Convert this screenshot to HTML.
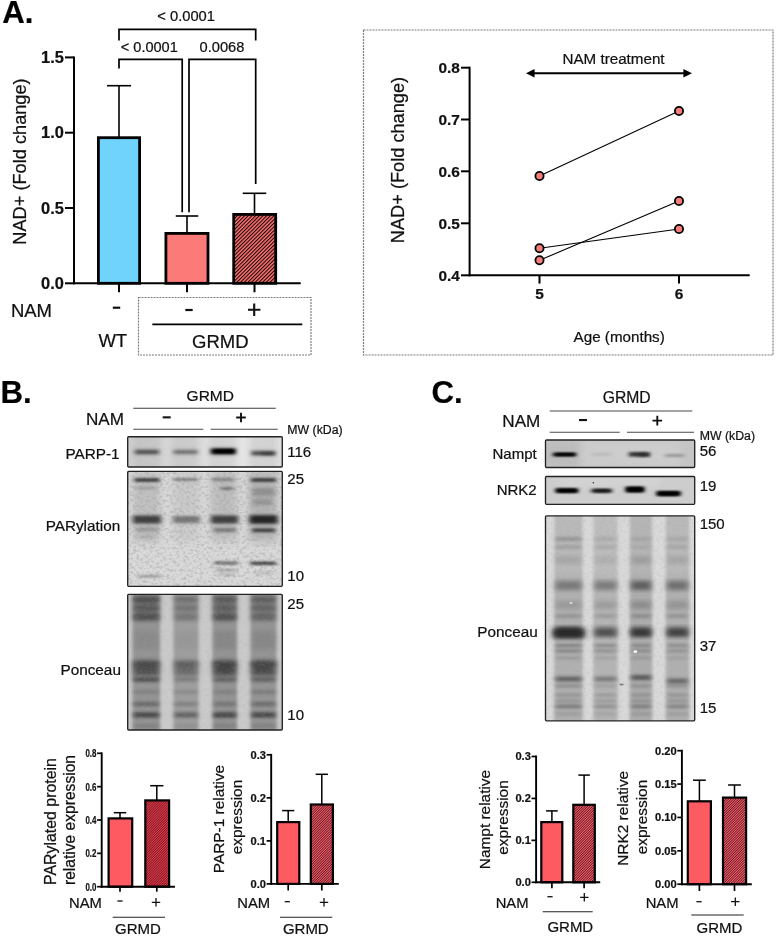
<!DOCTYPE html>
<html lang="en"><head><meta charset="utf-8"><title>NAD+ figure</title>
<style>html,body{margin:0;padding:0;background:#fff}svg{display:block;opacity:.999}text{font-family:'Liberation Sans', Arial, Helvetica, sans-serif;stroke:#111;stroke-width:.22px}</style>
</head><body>
<svg width="777" height="938" viewBox="0 0 777 938">
<defs>
<pattern id="hatchA" width="2.6" height="2.6" patternUnits="userSpaceOnUse" patternTransform="rotate(-45)"><rect width="2.6" height="2.6" fill="#ff7373"/><rect width="2.6" height="1.05" fill="#100"/></pattern>
<pattern id="hatchS" width="1.75" height="1.75" patternUnits="userSpaceOnUse" patternTransform="rotate(-45)"><rect width="1.75" height="1.75" fill="#fb6672"/><rect width="1.75" height="0.72" fill="#45040e"/></pattern>
<pattern id="hatchF" width="1.2" height="1.2" patternUnits="userSpaceOnUse" patternTransform="rotate(-45)"><rect width="1.2" height="1.2" fill="#e2404e"/><rect width="1.2" height="0.5" fill="#6a0c18"/></pattern>
<filter id="b1" x="-20%" y="-200%" width="140%" height="500%"><feGaussianBlur stdDeviation="2 1.15"/></filter>
<filter id="b2" x="-20%" y="-200%" width="140%" height="500%"><feGaussianBlur stdDeviation="2.6 1.8"/></filter>
<filter id="b3" x="-30%" y="-30%" width="160%" height="160%"><feGaussianBlur stdDeviation="3 2.2"/></filter>
<filter id="b5" x="-30%" y="-10%" width="160%" height="120%"><feGaussianBlur stdDeviation="1.7 3"/></filter>
<filter id="b4" x="-40%" y="-40%" width="180%" height="180%"><feGaussianBlur stdDeviation="3.5 5"/></filter>
<filter id="noise" x="0" y="0" width="100%" height="100%"><feTurbulence type="fractalNoise" baseFrequency="0.3 0.36" numOctaves="3" seed="7" result="n"/><feColorMatrix in="n" type="matrix" values="0 0 0 0 0.38  0 0 0 0 0.38  0 0 0 0 0.38  -3.4 0 0 0 1.85"/><feGaussianBlur stdDeviation="0.5"/></filter>
<filter id="noise2" x="0" y="0" width="100%" height="100%"><feTurbulence type="fractalNoise" baseFrequency="0.09 0.16" numOctaves="3" seed="11" result="n"/><feColorMatrix in="n" type="matrix" values="0 0 0 0 0  0 0 0 0 0  0 0 0 0 0  -1.6 -1.6 0 0 1.25"/></filter>
</defs>
<rect width="777" height="938" fill="#fff"/>
<g id="panelA">
<text x="2.3" y="22.9" font-size="31.2" text-anchor="start" font-weight="700" fill="#000">A.</text>
<path d="M119 40.5V29.3H255.7V40.5" fill="none" stroke="#000" stroke-width="1.7"/>
<path d="M119 68.5V59.3H182.2V212.3" fill="none" stroke="#000" stroke-width="1.7"/>
<path d="M189 212.3V59.3H255.7V184" fill="none" stroke="#000" stroke-width="1.7"/>
<text x="157.3" y="20.8" font-size="13.9" text-anchor="start" fill="#111" textLength="57.6" lengthAdjust="spacingAndGlyphs">&lt; 0.0001</text>
<text x="120.8" y="52.2" font-size="13.9" text-anchor="start" fill="#111" textLength="57" lengthAdjust="spacingAndGlyphs">&lt; 0.0001</text>
<text x="199.6" y="52.2" font-size="13.9" text-anchor="start" fill="#111" textLength="44.8" lengthAdjust="spacingAndGlyphs">0.0068</text>
<line x1="119" y1="85.7" x2="119" y2="140" stroke="#000" stroke-width="1.6"/>
<line x1="107.0" y1="85.7" x2="131.0" y2="85.7" stroke="#000" stroke-width="1.6"/>
<line x1="187" y1="216" x2="187" y2="235" stroke="#000" stroke-width="1.6"/>
<line x1="175.75" y1="216" x2="198.25" y2="216" stroke="#000" stroke-width="1.6"/>
<line x1="254.5" y1="193.3" x2="254.5" y2="216" stroke="#000" stroke-width="1.6"/>
<line x1="242.75" y1="193.3" x2="266.25" y2="193.3" stroke="#000" stroke-width="1.6"/>
<rect x="98.40" y="137.70" width="41.20" height="145.60" fill="#6fd3fb" stroke="#000" stroke-width="2.8"/>
<rect x="165.90" y="233.40" width="42.10" height="49.90" fill="#fc7b79" stroke="#000" stroke-width="2.8"/>
<rect x="233.70" y="214.40" width="42.00" height="68.90" fill="url(#hatchA)" stroke="#000" stroke-width="2.8"/>
<line x1="74" y1="56.4" x2="74" y2="284.3" stroke="#000" stroke-width="2"/>
<line x1="73" y1="283.3" x2="300.7" y2="283.3" stroke="#000" stroke-width="2"/>
<line x1="65" y1="57.4" x2="74" y2="57.4" stroke="#000" stroke-width="2"/>
<text x="63.9" y="62.9" font-size="16.4" text-anchor="end" font-weight="700" fill="#111">1.5</text>
<line x1="65" y1="132.7" x2="74" y2="132.7" stroke="#000" stroke-width="2"/>
<text x="63.9" y="138.2" font-size="16.4" text-anchor="end" font-weight="700" fill="#111">1.0</text>
<line x1="65" y1="208" x2="74" y2="208" stroke="#000" stroke-width="2"/>
<text x="63.9" y="213.5" font-size="16.4" text-anchor="end" font-weight="700" fill="#111">0.5</text>
<line x1="65" y1="283.3" x2="74" y2="283.3" stroke="#000" stroke-width="2"/>
<text x="63.9" y="288.8" font-size="16.4" text-anchor="end" font-weight="700" fill="#111">0.0</text>
<line x1="119" y1="283.3" x2="119" y2="292.3" stroke="#000" stroke-width="2"/>
<line x1="187" y1="283.3" x2="187" y2="292.3" stroke="#000" stroke-width="2"/>
<line x1="254.5" y1="283.3" x2="254.5" y2="292.3" stroke="#000" stroke-width="2"/>
<text x="25.6" y="161.5" font-size="18.2" text-anchor="middle" transform="rotate(-90 25.6 161.5)" fill="#111">NAD+ (Fold change)</text>
<text x="10.9" y="316.8" font-size="18.5" text-anchor="start" fill="#111">NAM</text>
<rect x="112.8" y="306.6" width="7.4" height="2.2" fill="#111"/>
<rect x="185.3" y="308.9" width="7.4" height="2.2" fill="#111"/>
<path d="M248 309.8h12.4M254.2 303.6v12.4" stroke="#111" stroke-width="2.1" fill="none"/>
<text x="112.8" y="347.4" font-size="18.5" text-anchor="middle" fill="#111">WT</text>
<text x="220.3" y="347.6" font-size="18.5" text-anchor="middle" fill="#111">GRMD</text>
<line x1="152.3" y1="324.3" x2="302.3" y2="324.3" stroke="#000" stroke-width="1.7"/>
<rect x="138.5" y="297.5" width="172.5" height="57.5" fill="none" stroke="#7c7c7c" stroke-width="1.2" stroke-dasharray="2 1"/>
</g>
<g id="panelA2">
<rect x="363.5" y="30" width="409.5" height="325" fill="none" stroke="#7c7c7c" stroke-width="1.2" stroke-dasharray="2 1"/>
<line x1="539.5" y1="176" x2="679" y2="111" stroke="#000" stroke-width="1.1"/>
<line x1="539.5" y1="248.3" x2="679" y2="229" stroke="#000" stroke-width="1.1"/>
<line x1="539.5" y1="260.3" x2="679" y2="201" stroke="#000" stroke-width="1.1"/>
<circle cx="539.5" cy="176" r="4.1" fill="#f57e7c" stroke="#000" stroke-width="1.8"/>
<circle cx="539.5" cy="248.3" r="4.1" fill="#f57e7c" stroke="#000" stroke-width="1.8"/>
<circle cx="539.5" cy="260.3" r="4.1" fill="#f57e7c" stroke="#000" stroke-width="1.8"/>
<circle cx="679" cy="111" r="4.1" fill="#f57e7c" stroke="#000" stroke-width="1.8"/>
<circle cx="679" cy="229" r="4.1" fill="#f57e7c" stroke="#000" stroke-width="1.8"/>
<circle cx="679" cy="201" r="4.1" fill="#f57e7c" stroke="#000" stroke-width="1.8"/>
<line x1="469.6" y1="66.7" x2="469.6" y2="276.3" stroke="#000" stroke-width="2"/>
<line x1="468.6" y1="275.3" x2="749.7" y2="275.3" stroke="#000" stroke-width="2"/>
<line x1="461" y1="67.7" x2="469.6" y2="67.7" stroke="#000" stroke-width="2"/>
<text x="459.9" y="72.9" font-size="15.4" text-anchor="end" font-weight="700" fill="#111">0.8</text>
<line x1="461" y1="119.5" x2="469.6" y2="119.5" stroke="#000" stroke-width="2"/>
<text x="459.9" y="124.7" font-size="15.4" text-anchor="end" font-weight="700" fill="#111">0.7</text>
<line x1="461" y1="171.3" x2="469.6" y2="171.3" stroke="#000" stroke-width="2"/>
<text x="459.9" y="176.5" font-size="15.4" text-anchor="end" font-weight="700" fill="#111">0.6</text>
<line x1="461" y1="223.3" x2="469.6" y2="223.3" stroke="#000" stroke-width="2"/>
<text x="459.9" y="228.5" font-size="15.4" text-anchor="end" font-weight="700" fill="#111">0.5</text>
<line x1="461" y1="275.3" x2="469.6" y2="275.3" stroke="#000" stroke-width="2"/>
<text x="459.9" y="280.5" font-size="15.4" text-anchor="end" font-weight="700" fill="#111">0.4</text>
<line x1="539.5" y1="275.3" x2="539.5" y2="283.6" stroke="#000" stroke-width="2"/>
<text x="539.5" y="299.3" font-size="15.4" text-anchor="middle" font-weight="700" fill="#111">5</text>
<line x1="679" y1="275.3" x2="679" y2="283.6" stroke="#000" stroke-width="2"/>
<text x="679" y="299.3" font-size="15.4" text-anchor="middle" font-weight="700" fill="#111">6</text>
<text x="403.5" y="160" font-size="18.2" text-anchor="middle" transform="rotate(-90 403.5 160)" fill="#111">NAD+ (Fold change)</text>
<text x="619.2" y="341.7" font-size="15.2" text-anchor="middle" fill="#111">Age (months)</text>
<text x="613.5" y="64" font-size="15.2" text-anchor="middle" fill="#111">NAM treatment</text>
<line x1="533" y1="73.3" x2="685" y2="73.3" stroke="#000" stroke-width="2"/>
<path d="M526 73.3l8.6-4.2v8.4zM692 73.3l-8.6-4.2v8.4z" fill="#000"/>
</g>
<g id="panelB">
<text x="0.4" y="402.7" font-size="31.2" text-anchor="start" font-weight="700" fill="#000">B.</text>
<text x="210.3" y="401" font-size="15.5" text-anchor="middle" fill="#111">GRMD</text>
<line x1="133.3" y1="408.3" x2="275.7" y2="408.3" stroke="#3a3a3a" stroke-width="1.1"/>
<text x="86" y="425" font-size="17.1" text-anchor="start" fill="#111">NAM</text>
<rect x="162.7" y="416.3" width="8" height="2.1" fill="#111"/>
<path d="M236.2 417.5h9.6M241 412.7v9.6" stroke="#111" stroke-width="1.9" fill="none"/>
<line x1="133.3" y1="429.3" x2="203.3" y2="429.3" stroke="#4a4a4a" stroke-width="1.1"/>
<line x1="210.7" y1="429.3" x2="277.7" y2="429.3" stroke="#4a4a4a" stroke-width="1.1"/>
<text x="287.3" y="433.7" font-size="12.3" text-anchor="start" fill="#111">MW (kDa)</text>
<text x="119.6" y="459" font-size="15.3" text-anchor="end" fill="#111">PARP-1</text>
<text x="120.2" y="531" font-size="15.3" text-anchor="end" fill="#111">PARylation</text>
<text x="120.9" y="675" font-size="15.3" text-anchor="end" fill="#111">Ponceau</text>
<text x="287.3" y="456.7" font-size="15" text-anchor="start" fill="#111">116</text>
<text x="287.3" y="484.3" font-size="15" text-anchor="start" fill="#111">25</text>
<text x="287.3" y="580.5" font-size="15" text-anchor="start" fill="#111">10</text>
<text x="287.3" y="608.8" font-size="15" text-anchor="start" fill="#111">25</text>
<text x="287.3" y="720" font-size="15" text-anchor="start" fill="#111">10</text>
<clipPath id="clip1"><rect x="127.7" y="436.7" width="154.60000000000002" height="30.30000000000001" rx="1"/></clipPath>
<g clip-path="url(#clip1)">
<rect x="127.7" y="436.7" width="154.60000000000002" height="30.30000000000001" fill="#e2e2e2"/>
<linearGradient id="gP" x1="0" x2="1" y1="0" y2="0"><stop offset="0" stop-color="#d0d0d0"/><stop offset=".4" stop-color="#dadada"/><stop offset=".7" stop-color="#e6e6e6"/><stop offset="1" stop-color="#e0e0e0"/></linearGradient>
<rect x="127.7" y="436" width="154.60000000000002" height="32" fill="url(#gP)"/>
<rect x="133" y="430" width="28" height="44" fill="#888" opacity="0.17" filter="url(#b3)"/>
<rect x="172" y="430" width="27" height="44" fill="#888" opacity="0.17" filter="url(#b3)"/>
<rect x="210" y="430" width="27" height="44" fill="#888" opacity="0.17" filter="url(#b3)"/>
<rect x="249" y="430" width="28" height="44" fill="#888" opacity="0.17" filter="url(#b3)"/>
<rect x="134.5" y="448.5" width="24.8" height="7" fill="#555" opacity="0.35" filter="url(#b2)"/>
<rect x="173" y="448.5" width="25.0" height="7" fill="#666" opacity="0.28" filter="url(#b2)"/>
<rect x="210.5" y="447.5" width="25.5" height="8" fill="#333" opacity="0.45" filter="url(#b2)"/>
<rect x="251" y="449.7" width="24.5" height="7" fill="#555" opacity="0.35" filter="url(#b2)"/>
<rect x="135.5" y="450.2" width="22.8" height="3.6" fill="#4a4a4a" opacity="0.9" filter="url(#b1)"/>
<rect x="174" y="450.4" width="23.0" height="3.2" fill="#5a5a5a" opacity="0.75" filter="url(#b1)"/>
<rect x="211.5" y="448.8" width="23.5" height="5" fill="#000" opacity="1.0" filter="url(#b1)"/>
<rect x="216" y="449.8" width="17.0" height="3" fill="#000" opacity="1.0" filter="url(#b1)"/>
<rect x="252" y="451.4" width="22.5" height="3.6" fill="#454545" opacity="0.9" filter="url(#b1)"/>
<rect x="262" y="452.0" width="12.0" height="3.2" fill="#333" opacity="0.6" filter="url(#b1)"/>
</g>
<rect x="127.7" y="436.7" width="154.60000000000002" height="30.30000000000001" rx="1" fill="none" stroke="#222" stroke-width="1.35"/>
<clipPath id="clip2"><rect x="127.7" y="471.3" width="154.60000000000002" height="114.99999999999994" rx="1"/></clipPath>
<g clip-path="url(#clip2)">
<rect x="127.7" y="471.3" width="154.60000000000002" height="114.99999999999994" fill="#d9d9d9"/>
<rect x="133" y="471.3" width="27" height="70" fill="#555" opacity="0.18" filter="url(#b4)"/>
<rect x="173" y="471.3" width="26" height="70" fill="#555" opacity="0.1" filter="url(#b4)"/>
<rect x="211" y="471.3" width="26" height="70" fill="#555" opacity="0.2" filter="url(#b4)"/>
<rect x="249" y="471.3" width="28" height="70" fill="#555" opacity="0.28" filter="url(#b4)"/>
<rect x="127.7" y="471.3" width="154.60000000000002" height="114.99999999999994" filter="url(#noise)" opacity="0.5"/>
<rect x="134.5" y="478.0" width="25.0" height="4" fill="#333" opacity="0.85" filter="url(#b1)"/>
<rect x="173.5" y="478.0" width="24.5" height="3" fill="#555" opacity="0.6" filter="url(#b1)"/>
<rect x="212" y="477.8" width="22.0" height="3.5" fill="#555" opacity="0.5" filter="url(#b1)"/>
<rect x="251" y="478.0" width="25.0" height="4" fill="#333" opacity="0.85" filter="url(#b1)"/>
<rect x="221" y="487.0" width="12.0" height="3" fill="#444" opacity="0.6" filter="url(#b1)"/>
<rect x="136" y="486.5" width="20.0" height="3" fill="#666" opacity="0.35" filter="url(#b1)"/>
<rect x="252" y="488.0" width="23.0" height="8" fill="#555" opacity="0.35" filter="url(#b2)"/>
<rect x="252" y="499.0" width="20.0" height="6" fill="#555" opacity="0.3" filter="url(#b2)"/>
<rect x="133" y="515.5" width="28.0" height="8" fill="#333" opacity="0.9" filter="url(#b2)"/>
<rect x="173" y="516.0" width="27.0" height="7" fill="#555" opacity="0.7" filter="url(#b2)"/>
<rect x="211" y="515.5" width="27.0" height="8" fill="#333" opacity="0.9" filter="url(#b2)"/>
<rect x="249.5" y="515.2" width="28.0" height="8.5" fill="#1c1c1c" opacity="0.95" filter="url(#b2)"/>
<rect x="136" y="527.5" width="23.0" height="4" fill="#666" opacity="0.45" filter="url(#b2)"/>
<rect x="214" y="528.0" width="22.0" height="4" fill="#444" opacity="0.6" filter="url(#b2)"/>
<rect x="252" y="528.3" width="23.0" height="4" fill="#2a2a2a" opacity="0.8" filter="url(#b1)"/>
<rect x="138" y="535.5" width="18.0" height="3" fill="#777" opacity="0.3" filter="url(#b2)"/>
<rect x="214" y="561.4" width="24.0" height="3.2" fill="#444" opacity="0.7" filter="url(#b1)"/>
<rect x="250.5" y="561.5" width="25.5" height="3.6" fill="#333" opacity="0.85" filter="url(#b1)"/>
<rect x="216" y="568.5" width="20.0" height="3" fill="#666" opacity="0.4" filter="url(#b1)"/>
<rect x="218" y="573.2" width="16.0" height="2.5" fill="#666" opacity="0.3" filter="url(#b1)"/>
<rect x="138" y="574.8" width="23.0" height="3" fill="#666" opacity="0.45" filter="url(#b1)"/>
<rect x="254" y="571.5" width="20.0" height="3" fill="#777" opacity="0.25" filter="url(#b1)"/>
</g>
<rect x="127.7" y="471.3" width="154.60000000000002" height="114.99999999999994" rx="1" fill="none" stroke="#222" stroke-width="1.35"/>
<clipPath id="clip3"><rect x="127.7" y="594.3" width="154.60000000000002" height="135.70000000000005" rx="1"/></clipPath>
<g clip-path="url(#clip3)">
<rect x="127.7" y="594.3" width="154.60000000000002" height="135.70000000000005" fill="#cacaca"/>
<rect x="132.5" y="584.3" width="27.5" height="155.70000000000005" fill="#808080" opacity="0.72" filter="url(#b5)"/>
<rect x="173.5" y="584.3" width="25.0" height="155.70000000000005" fill="#808080" opacity="0.6" filter="url(#b5)"/>
<rect x="212.5" y="584.3" width="24.5" height="155.70000000000005" fill="#808080" opacity="0.74" filter="url(#b5)"/>
<rect x="250.5" y="584.3" width="26.0" height="155.70000000000005" fill="#808080" opacity="0.72" filter="url(#b5)"/>
<rect x="133.5" y="595.0" width="25.5" height="26" fill="#3c3c3c" opacity="0.5" filter="url(#b3)"/>
<rect x="174.5" y="595.0" width="23.0" height="26" fill="#3c3c3c" opacity="0.25" filter="url(#b3)"/>
<rect x="213.5" y="595.0" width="22.5" height="26" fill="#3c3c3c" opacity="0.45" filter="url(#b3)"/>
<rect x="251.5" y="595.0" width="24.0" height="26" fill="#3c3c3c" opacity="0.35" filter="url(#b3)"/>
<rect x="133.5" y="597.0" width="25.5" height="5" fill="#3c3c3c" opacity="0.6" filter="url(#b2)"/>
<rect x="174.5" y="597.0" width="23.0" height="5" fill="#3c3c3c" opacity="0.3" filter="url(#b2)"/>
<rect x="213.5" y="597.0" width="22.5" height="5" fill="#3c3c3c" opacity="0.4" filter="url(#b2)"/>
<rect x="251.5" y="597.0" width="24.0" height="5" fill="#3c3c3c" opacity="0.4" filter="url(#b2)"/>
<rect x="133.5" y="605.8" width="25.5" height="4.5" fill="#3c3c3c" opacity="0.4" filter="url(#b2)"/>
<rect x="174.5" y="605.8" width="23.0" height="4.5" fill="#3c3c3c" opacity="0.25" filter="url(#b2)"/>
<rect x="213.5" y="605.8" width="22.5" height="4.5" fill="#3c3c3c" opacity="0.3" filter="url(#b2)"/>
<rect x="251.5" y="605.8" width="24.0" height="4.5" fill="#3c3c3c" opacity="0.35" filter="url(#b2)"/>
<rect x="133.5" y="614.0" width="25.5" height="6" fill="#3c3c3c" opacity="0.55" filter="url(#b2)"/>
<rect x="174.5" y="614.0" width="23.0" height="6" fill="#3c3c3c" opacity="0.2" filter="url(#b2)"/>
<rect x="213.5" y="614.0" width="22.5" height="6" fill="#3c3c3c" opacity="0.55" filter="url(#b2)"/>
<rect x="251.5" y="614.0" width="24.0" height="6" fill="#3c3c3c" opacity="0.3" filter="url(#b2)"/>
<rect x="133.5" y="631.0" width="25.5" height="18" fill="#3c3c3c" opacity="0.1" filter="url(#b3)"/>
<rect x="174.5" y="631.0" width="23.0" height="18" fill="#3c3c3c" opacity="0.06" filter="url(#b3)"/>
<rect x="213.5" y="631.0" width="22.5" height="18" fill="#3c3c3c" opacity="0.14" filter="url(#b3)"/>
<rect x="251.5" y="631.0" width="24.0" height="18" fill="#3c3c3c" opacity="0.14" filter="url(#b3)"/>
<rect x="133.5" y="660.5" width="25.5" height="15" fill="#3c3c3c" opacity="0.8" filter="url(#b3)"/>
<rect x="174.5" y="660.5" width="23.0" height="15" fill="#3c3c3c" opacity="0.55" filter="url(#b3)"/>
<rect x="213.5" y="660.5" width="22.5" height="15" fill="#3c3c3c" opacity="0.9" filter="url(#b3)"/>
<rect x="251.5" y="660.5" width="24.0" height="15" fill="#3c3c3c" opacity="0.85" filter="url(#b3)"/>
<rect x="133.5" y="661.5" width="25.5" height="5" fill="#3c3c3c" opacity="0.4" filter="url(#b2)"/>
<rect x="174.5" y="661.5" width="23.0" height="5" fill="#3c3c3c" opacity="0.25" filter="url(#b2)"/>
<rect x="213.5" y="661.5" width="22.5" height="5" fill="#3c3c3c" opacity="0.4" filter="url(#b2)"/>
<rect x="251.5" y="661.5" width="24.0" height="5" fill="#3c3c3c" opacity="0.45" filter="url(#b2)"/>
<rect x="133.5" y="677.0" width="25.5" height="5" fill="#3c3c3c" opacity="0.75" filter="url(#b2)"/>
<rect x="174.5" y="677.0" width="23.0" height="5" fill="#3c3c3c" opacity="0.3" filter="url(#b2)"/>
<rect x="213.5" y="677.0" width="22.5" height="5" fill="#3c3c3c" opacity="0.55" filter="url(#b2)"/>
<rect x="251.5" y="677.0" width="24.0" height="5" fill="#3c3c3c" opacity="0.55" filter="url(#b2)"/>
<rect x="133.5" y="690.0" width="25.5" height="4" fill="#3c3c3c" opacity="0.22" filter="url(#b2)"/>
<rect x="174.5" y="690.0" width="23.0" height="4" fill="#3c3c3c" opacity="0.2" filter="url(#b2)"/>
<rect x="213.5" y="690.0" width="22.5" height="4" fill="#3c3c3c" opacity="0.22" filter="url(#b2)"/>
<rect x="251.5" y="690.0" width="24.0" height="4" fill="#3c3c3c" opacity="0.3" filter="url(#b2)"/>
<rect x="133.5" y="701.8" width="25.5" height="4.5" fill="#3c3c3c" opacity="0.5" filter="url(#b2)"/>
<rect x="174.5" y="701.8" width="23.0" height="4.5" fill="#3c3c3c" opacity="0.3" filter="url(#b2)"/>
<rect x="213.5" y="701.8" width="22.5" height="4.5" fill="#3c3c3c" opacity="0.35" filter="url(#b2)"/>
<rect x="251.5" y="701.8" width="24.0" height="4.5" fill="#3c3c3c" opacity="0.45" filter="url(#b2)"/>
<rect x="133.5" y="712.2" width="25.5" height="5.5" fill="#3c3c3c" opacity="0.85" filter="url(#b2)"/>
<rect x="174.5" y="712.2" width="23.0" height="5.5" fill="#3c3c3c" opacity="0.6" filter="url(#b2)"/>
<rect x="213.5" y="712.2" width="22.5" height="5.5" fill="#3c3c3c" opacity="0.9" filter="url(#b2)"/>
<rect x="251.5" y="712.2" width="24.0" height="5.5" fill="#3c3c3c" opacity="0.85" filter="url(#b2)"/>
<rect x="133.5" y="723.5" width="25.5" height="5" fill="#3c3c3c" opacity="0.2" filter="url(#b2)"/>
<rect x="174.5" y="723.5" width="23.0" height="5" fill="#3c3c3c" opacity="0.12" filter="url(#b2)"/>
<rect x="213.5" y="723.5" width="22.5" height="5" fill="#3c3c3c" opacity="0.2" filter="url(#b2)"/>
<rect x="251.5" y="723.5" width="24.0" height="5" fill="#3c3c3c" opacity="0.2" filter="url(#b2)"/>
<rect x="127.7" y="594.3" width="154.60000000000002" height="135.70000000000005" filter="url(#noise)" opacity="0.12"/>
</g>
<rect x="127.7" y="594.3" width="154.60000000000002" height="135.70000000000005" rx="1" fill="none" stroke="#222" stroke-width="1.35"/>
</g>
<g id="panelC">
<text x="431.5" y="402.8" font-size="31.2" text-anchor="start" font-weight="700" fill="#000">C.</text>
<text x="626.7" y="403.3" font-size="15.7" text-anchor="middle" fill="#111">GRMD</text>
<line x1="549.7" y1="411" x2="692.3" y2="411" stroke="#4a4a4a" stroke-width="1.1"/>
<text x="502.3" y="426.7" font-size="17.1" text-anchor="start" fill="#111">NAM</text>
<rect x="579" y="419" width="8" height="2.1" fill="#111"/>
<path d="M652.5 420.6h9.6M657.3 415.8v9.6" stroke="#111" stroke-width="1.9" fill="none"/>
<line x1="549.7" y1="432.3" x2="619.7" y2="432.3" stroke="#4a4a4a" stroke-width="1.1"/>
<line x1="627" y1="432.3" x2="694" y2="432.3" stroke="#4a4a4a" stroke-width="1.1"/>
<text x="699.7" y="440" font-size="12.3" text-anchor="start" fill="#111">MW (kDa)</text>
<text x="536.7" y="459.3" font-size="15" text-anchor="end" fill="#111">Nampt</text>
<text x="536.7" y="495" font-size="15" text-anchor="end" fill="#111">NRK2</text>
<text x="537.7" y="636.7" font-size="15.3" text-anchor="end" fill="#111">Ponceau</text>
<text x="699.7" y="455.7" font-size="15" text-anchor="start" fill="#111">56</text>
<text x="699.7" y="491" font-size="15" text-anchor="start" fill="#111">19</text>
<text x="699.7" y="529.2" font-size="15" text-anchor="start" fill="#111">150</text>
<text x="699.7" y="651" font-size="15" text-anchor="start" fill="#111">37</text>
<text x="699.7" y="713.3" font-size="15" text-anchor="start" fill="#111">15</text>
<clipPath id="clip4"><rect x="545.5" y="440" width="149.20000000000005" height="27.5" rx="1"/></clipPath>
<g clip-path="url(#clip4)">
<rect x="545.5" y="440" width="149.20000000000005" height="27.5" fill="#c5c5c5"/>
<rect x="580" y="440" width="100" height="28" fill="#d2d2d2" opacity="0.6" filter="url(#b4)"/>
<rect x="547" y="441" width="32" height="26" fill="#aaa" opacity="0.35" filter="url(#b4)"/>
<rect x="553" y="452.7" width="23.0" height="3.6" fill="#000" opacity="1.0" filter="url(#b1)"/>
<rect x="556" y="453.3" width="18.0" height="2.4" fill="#000" opacity="1.0" filter="url(#b1)"/>
<rect x="591" y="452.8" width="21.0" height="3" fill="#999" opacity="0.35" filter="url(#b1)"/>
<rect x="629" y="452.0" width="20.5" height="4.6" fill="#222" opacity="0.9" filter="url(#b1)"/>
<rect x="638" y="453.3" width="11.0" height="3.4" fill="#222" opacity="0.6" filter="url(#b1)"/>
<rect x="665" y="454.0" width="19.0" height="3" fill="#666" opacity="0.5" filter="url(#b1)"/>
</g>
<rect x="545.5" y="440" width="149.20000000000005" height="27.5" rx="1" fill="none" stroke="#222" stroke-width="1.35"/>
<clipPath id="clip5"><rect x="545.5" y="476.5" width="149.20000000000005" height="27.80000000000001" rx="1"/></clipPath>
<g clip-path="url(#clip5)">
<rect x="545.5" y="476.5" width="149.20000000000005" height="27.80000000000001" fill="#cdcdcd"/>
<rect x="560" y="476" width="100" height="10" fill="#dadada" opacity="0.6" filter="url(#b4)"/>
<rect x="555.5" y="488.3" width="22.5" height="4.6" fill="#000" opacity="1.0" filter="url(#b1)"/>
<rect x="558" y="489.0" width="18.0" height="3.2" fill="#000" opacity="1.0" filter="url(#b1)"/>
<rect x="591.5" y="488.9" width="20.3" height="3.8" fill="#111" opacity="0.95" filter="url(#b1)"/>
<rect x="595" y="489.6" width="14.0" height="2.4" fill="#111" opacity="0.8" filter="url(#b1)"/>
<rect x="625.5" y="486.6" width="18.8" height="5.8" fill="#000" opacity="1.0" filter="url(#b1)"/>
<rect x="628" y="487.4" width="14.0" height="4.2" fill="#000" opacity="1.0" filter="url(#b1)"/>
<rect x="656.5" y="491.0" width="24.0" height="5" fill="#000" opacity="1.0" filter="url(#b1)"/>
<rect x="659" y="491.9" width="19.0" height="3.6" fill="#000" opacity="1.0" filter="url(#b1)"/>
<circle cx="593.3" cy="482.7" r="0.7" fill="#222"/>
</g>
<rect x="545.5" y="476.5" width="149.20000000000005" height="27.80000000000001" rx="1" fill="none" stroke="#222" stroke-width="1.35"/>
<clipPath id="clip6"><rect x="545.5" y="515.8" width="149.20000000000005" height="205.0" rx="1"/></clipPath>
<g clip-path="url(#clip6)">
<rect x="545.5" y="515.8" width="149.20000000000005" height="205.0" fill="#d9d9d9"/>
<rect x="554.5" y="505.79999999999995" width="28" height="225.0" fill="#8c8c8c" opacity="0.42" filter="url(#b5)"/>
<rect x="554.5" y="576" width="28" height="170" fill="#8c8c8c" opacity="0.19" filter="url(#b5)"/>
<rect x="593.5" y="505.79999999999995" width="24" height="225.0" fill="#8c8c8c" opacity="0.36" filter="url(#b5)"/>
<rect x="593.5" y="576" width="24" height="170" fill="#8c8c8c" opacity="0.16" filter="url(#b5)"/>
<rect x="630.0" y="505.79999999999995" width="22.0" height="225.0" fill="#8c8c8c" opacity="0.46" filter="url(#b5)"/>
<rect x="630.0" y="576" width="22.0" height="170" fill="#8c8c8c" opacity="0.21" filter="url(#b5)"/>
<rect x="666.0" y="505.79999999999995" width="23.0" height="225.0" fill="#8c8c8c" opacity="0.42" filter="url(#b5)"/>
<rect x="666.0" y="576" width="23.0" height="170" fill="#8c8c8c" opacity="0.19" filter="url(#b5)"/>
<rect x="545.5" y="515.8" width="149.20000000000005" height="205.0" filter="url(#noise)" opacity="0.16"/>
<rect x="555.5" y="537.0" width="26.0" height="4" fill="#444" opacity="0.3" filter="url(#b2)"/>
<rect x="594.5" y="537.0" width="22.0" height="4" fill="#444" opacity="0.15" filter="url(#b2)"/>
<rect x="631.0" y="537.0" width="20.0" height="4" fill="#444" opacity="0.15" filter="url(#b2)"/>
<rect x="667.0" y="537.0" width="21.0" height="4" fill="#444" opacity="0.15" filter="url(#b2)"/>
<rect x="555.5" y="545.0" width="26.0" height="4" fill="#444" opacity="0.2" filter="url(#b2)"/>
<rect x="594.5" y="545.0" width="22.0" height="4" fill="#444" opacity="0.15" filter="url(#b2)"/>
<rect x="631.0" y="545.0" width="20.0" height="4" fill="#444" opacity="0.1" filter="url(#b2)"/>
<rect x="667.0" y="545.0" width="21.0" height="4" fill="#444" opacity="0.15" filter="url(#b2)"/>
<rect x="555.5" y="556.0" width="26.0" height="8" fill="#444" opacity="0.15" filter="url(#b3)"/>
<rect x="594.5" y="556.0" width="22.0" height="8" fill="#444" opacity="0.1" filter="url(#b3)"/>
<rect x="631.0" y="556.0" width="20.0" height="8" fill="#444" opacity="0.2" filter="url(#b3)"/>
<rect x="667.0" y="556.0" width="21.0" height="8" fill="#444" opacity="0.15" filter="url(#b3)"/>
<rect x="555.5" y="581.0" width="26.0" height="9" fill="#444" opacity="0.5" filter="url(#b3)"/>
<rect x="594.5" y="581.0" width="22.0" height="9" fill="#444" opacity="0.5" filter="url(#b3)"/>
<rect x="631.0" y="581.0" width="20.0" height="9" fill="#444" opacity="0.75" filter="url(#b3)"/>
<rect x="667.0" y="581.0" width="21.0" height="9" fill="#444" opacity="0.6" filter="url(#b3)"/>
<rect x="555.5" y="601.0" width="26.0" height="8" fill="#444" opacity="0.2" filter="url(#b3)"/>
<rect x="594.5" y="601.0" width="22.0" height="8" fill="#444" opacity="0.2" filter="url(#b3)"/>
<rect x="631.0" y="601.0" width="20.0" height="8" fill="#444" opacity="0.3" filter="url(#b3)"/>
<rect x="667.0" y="601.0" width="21.0" height="8" fill="#444" opacity="0.25" filter="url(#b3)"/>
<rect x="555.5" y="614.0" width="26.0" height="4" fill="#444" opacity="0.25" filter="url(#b2)"/>
<rect x="594.5" y="614.0" width="22.0" height="4" fill="#444" opacity="0.2" filter="url(#b2)"/>
<rect x="631.0" y="614.0" width="20.0" height="4" fill="#444" opacity="0.3" filter="url(#b2)"/>
<rect x="667.0" y="614.0" width="21.0" height="4" fill="#444" opacity="0.25" filter="url(#b2)"/>
<rect x="555.5" y="627.0" width="26.0" height="10" fill="#333" opacity="0.95" filter="url(#b3)"/>
<rect x="594.5" y="627.0" width="22.0" height="10" fill="#333" opacity="0.65" filter="url(#b3)"/>
<rect x="631.0" y="627.0" width="20.0" height="10" fill="#333" opacity="0.85" filter="url(#b3)"/>
<rect x="667.0" y="627.0" width="21.0" height="10" fill="#333" opacity="0.75" filter="url(#b3)"/>
<rect x="555.5" y="630.0" width="26.0" height="6" fill="#222" opacity="0.7" filter="url(#b2)"/>
<rect x="594.5" y="630.0" width="22.0" height="6" fill="#222" opacity="0.2" filter="url(#b2)"/>
<rect x="631.0" y="630.0" width="20.0" height="6" fill="#222" opacity="0.4" filter="url(#b2)"/>
<rect x="667.0" y="630.0" width="21.0" height="6" fill="#222" opacity="0.3" filter="url(#b2)"/>
<rect x="553" y="628.5" width="32.0" height="10" fill="#2a2a2a" opacity="0.75" filter="url(#b3)"/>
<rect x="555.5" y="644.2" width="26.0" height="2.6" fill="#444" opacity="0.55" filter="url(#b2)"/>
<rect x="594.5" y="644.2" width="22.0" height="2.6" fill="#444" opacity="0.45" filter="url(#b2)"/>
<rect x="631.0" y="644.2" width="20.0" height="2.6" fill="#444" opacity="0.45" filter="url(#b2)"/>
<rect x="667.0" y="644.2" width="21.0" height="2.6" fill="#444" opacity="0.4" filter="url(#b2)"/>
<rect x="555.5" y="649.7" width="26.0" height="2.6" fill="#444" opacity="0.5" filter="url(#b2)"/>
<rect x="594.5" y="649.7" width="22.0" height="2.6" fill="#444" opacity="0.4" filter="url(#b2)"/>
<rect x="631.0" y="649.7" width="20.0" height="2.6" fill="#444" opacity="0.4" filter="url(#b2)"/>
<rect x="667.0" y="649.7" width="21.0" height="2.6" fill="#444" opacity="0.35" filter="url(#b2)"/>
<rect x="555.5" y="656.8" width="26.0" height="2.4" fill="#444" opacity="0.25" filter="url(#b2)"/>
<rect x="594.5" y="656.8" width="22.0" height="2.4" fill="#444" opacity="0.2" filter="url(#b2)"/>
<rect x="631.0" y="656.8" width="20.0" height="2.4" fill="#444" opacity="0.25" filter="url(#b2)"/>
<rect x="667.0" y="656.8" width="21.0" height="2.4" fill="#444" opacity="0.2" filter="url(#b2)"/>
<rect x="555.5" y="676.5" width="26.0" height="5" fill="#444" opacity="0.7" filter="url(#b2)"/>
<rect x="594.5" y="676.5" width="22.0" height="5" fill="#444" opacity="0.5" filter="url(#b2)"/>
<rect x="631.0" y="675.0" width="20.0" height="5" fill="#444" opacity="0.8" filter="url(#b2)"/>
<rect x="667.0" y="678.5" width="21.0" height="5" fill="#444" opacity="0.65" filter="url(#b2)"/>
<rect x="555.5" y="684.5" width="26.0" height="3" fill="#444" opacity="0.35" filter="url(#b2)"/>
<rect x="594.5" y="684.5" width="22.0" height="3" fill="#444" opacity="0.2" filter="url(#b2)"/>
<rect x="631.0" y="684.5" width="20.0" height="3" fill="#444" opacity="0.3" filter="url(#b2)"/>
<rect x="667.0" y="684.5" width="21.0" height="3" fill="#444" opacity="0.3" filter="url(#b2)"/>
<rect x="555.5" y="693.5" width="26.0" height="3" fill="#444" opacity="0.3" filter="url(#b2)"/>
<rect x="594.5" y="693.5" width="22.0" height="3" fill="#444" opacity="0.25" filter="url(#b2)"/>
<rect x="631.0" y="693.5" width="20.0" height="3" fill="#444" opacity="0.3" filter="url(#b2)"/>
<rect x="667.0" y="693.5" width="21.0" height="3" fill="#444" opacity="0.3" filter="url(#b2)"/>
<rect x="555.5" y="699.5" width="26.0" height="3" fill="#444" opacity="0.3" filter="url(#b2)"/>
<rect x="594.5" y="699.5" width="22.0" height="3" fill="#444" opacity="0.25" filter="url(#b2)"/>
<rect x="631.0" y="699.5" width="20.0" height="3" fill="#444" opacity="0.3" filter="url(#b2)"/>
<rect x="667.0" y="699.5" width="21.0" height="3" fill="#444" opacity="0.3" filter="url(#b2)"/>
<rect x="555.5" y="704.8" width="26.0" height="3.4" fill="#444" opacity="0.55" filter="url(#b2)"/>
<rect x="594.5" y="704.8" width="22.0" height="3.4" fill="#444" opacity="0.35" filter="url(#b2)"/>
<rect x="631.0" y="704.8" width="20.0" height="3.4" fill="#444" opacity="0.5" filter="url(#b2)"/>
<rect x="667.0" y="704.8" width="21.0" height="3.4" fill="#444" opacity="0.45" filter="url(#b2)"/>
<rect x="555.5" y="712.5" width="26.0" height="3" fill="#444" opacity="0.2" filter="url(#b2)"/>
<rect x="594.5" y="712.5" width="22.0" height="3" fill="#444" opacity="0.15" filter="url(#b2)"/>
<rect x="631.0" y="712.5" width="20.0" height="3" fill="#444" opacity="0.2" filter="url(#b2)"/>
<rect x="667.0" y="712.5" width="21.0" height="3" fill="#444" opacity="0.2" filter="url(#b2)"/>
<ellipse cx="635.3" cy="651.7" rx="2" ry="1.4" fill="#fff" opacity="0.9"/>
<ellipse cx="571" cy="603" rx="1.6" ry="1" fill="#e8e8e8" opacity="0.8"/>
<ellipse cx="621.5" cy="684.5" rx="2.2" ry="1.1" fill="#555" opacity="0.7"/>
</g>
<rect x="545.5" y="515.8" width="149.20000000000005" height="205.0" rx="1" fill="none" stroke="#222" stroke-width="1.35"/>
</g>
<g id="chartB1">
<line x1="120" y1="812.7" x2="120" y2="819" stroke="#000" stroke-width="1.5"/>
<line x1="113.8" y1="812.7" x2="126.2" y2="812.7" stroke="#000" stroke-width="1.5"/>
<line x1="156.8" y1="785.7" x2="156.8" y2="801" stroke="#000" stroke-width="1.5"/>
<line x1="150.15" y1="785.7" x2="163.45000000000002" y2="785.7" stroke="#000" stroke-width="1.5"/>
<rect x="108.60" y="818.40" width="23.60" height="68.30" fill="#fd5a62" stroke="#000" stroke-width="2.2"/>
<rect x="145.30" y="800.40" width="23.80" height="86.30" fill="url(#hatchF)" stroke="#000" stroke-width="2.2"/>
<line x1="101.7" y1="752.3499999999999" x2="101.7" y2="887.6500000000001" stroke="#000" stroke-width="1.9"/>
<line x1="100.75" y1="886.7" x2="174.9" y2="886.7" stroke="#000" stroke-width="1.9"/>
<line x1="97.10000000000001" y1="886.7" x2="101.7" y2="886.7" stroke="#000" stroke-width="1.7"/>
<text x="96.4" y="890.6" font-size="11.1" text-anchor="end" font-weight="700" fill="#111" textLength="11" lengthAdjust="spacingAndGlyphs">0.0</text>
<line x1="97.10000000000001" y1="853.35" x2="101.7" y2="853.35" stroke="#000" stroke-width="1.7"/>
<text x="96.4" y="857.25" font-size="11.1" text-anchor="end" font-weight="700" fill="#111" textLength="11" lengthAdjust="spacingAndGlyphs">0.2</text>
<line x1="97.10000000000001" y1="820.0" x2="101.7" y2="820.0" stroke="#000" stroke-width="1.7"/>
<text x="96.4" y="823.9" font-size="11.1" text-anchor="end" font-weight="700" fill="#111" textLength="11" lengthAdjust="spacingAndGlyphs">0.4</text>
<line x1="97.10000000000001" y1="786.65" x2="101.7" y2="786.65" stroke="#000" stroke-width="1.7"/>
<text x="96.4" y="790.55" font-size="11.1" text-anchor="end" font-weight="700" fill="#111" textLength="11" lengthAdjust="spacingAndGlyphs">0.6</text>
<line x1="97.10000000000001" y1="753.3" x2="101.7" y2="753.3" stroke="#000" stroke-width="1.7"/>
<text x="96.4" y="757.1999999999999" font-size="11.1" text-anchor="end" font-weight="700" fill="#111" textLength="11" lengthAdjust="spacingAndGlyphs">0.8</text>
<line x1="120" y1="886.7" x2="120" y2="891.7" stroke="#000" stroke-width="1.7"/>
<line x1="156.8" y1="886.7" x2="156.8" y2="891.7" stroke="#000" stroke-width="1.7"/>
<text x="69" y="908.3" font-size="14.8" text-anchor="start" fill="#111">NAM</text>
<rect x="117.4" y="900.35" width="5.2" height="1.3" fill="#111"/>
<path d="M151.8 902.3h8.4M156 898.0999999999999v8.4" stroke="#111" stroke-width="1.3" fill="none"/>
<line x1="112.7" y1="917.3" x2="165" y2="917.3" stroke="#222" stroke-width="1.1"/>
<text x="138" y="934.3" font-size="15" text-anchor="middle" fill="#111">GRMD</text>
<text x="55.5" y="821.5" font-size="15.9" text-anchor="middle" transform="rotate(-90 55.5 821.5)" fill="#111">PARylated protein</text>
<text x="75" y="820" font-size="15.6" text-anchor="middle" transform="rotate(-90 75 820)" fill="#111">relative expression</text>
</g>
<g id="chartB2">
<line x1="288.2" y1="810.6" x2="288.2" y2="823" stroke="#000" stroke-width="1.5"/>
<line x1="282.09999999999997" y1="810.6" x2="294.3" y2="810.6" stroke="#000" stroke-width="1.5"/>
<line x1="321.8" y1="774.3" x2="321.8" y2="806" stroke="#000" stroke-width="1.5"/>
<line x1="315.65000000000003" y1="774.3" x2="327.95" y2="774.3" stroke="#000" stroke-width="1.5"/>
<rect x="277.20" y="822.10" width="22.10" height="61.80" fill="#fd5a62" stroke="#000" stroke-width="2.2"/>
<rect x="310.80" y="804.50" width="22.10" height="79.40" fill="url(#hatchS)" stroke="#000" stroke-width="2.2"/>
<line x1="271.2" y1="753.8499999999999" x2="271.2" y2="884.85" stroke="#000" stroke-width="1.9"/>
<line x1="270.25" y1="883.9" x2="338.8" y2="883.9" stroke="#000" stroke-width="1.9"/>
<line x1="266.59999999999997" y1="883.9" x2="271.2" y2="883.9" stroke="#000" stroke-width="1.7"/>
<text x="265.9" y="887.8" font-size="11.1" text-anchor="end" font-weight="700" fill="#111">0.0</text>
<line x1="266.59999999999997" y1="840.8666666666667" x2="271.2" y2="840.8666666666667" stroke="#000" stroke-width="1.7"/>
<text x="265.9" y="844.7666666666667" font-size="11.1" text-anchor="end" font-weight="700" fill="#111">0.1</text>
<line x1="266.59999999999997" y1="797.8333333333333" x2="271.2" y2="797.8333333333333" stroke="#000" stroke-width="1.7"/>
<text x="265.9" y="801.7333333333332" font-size="11.1" text-anchor="end" font-weight="700" fill="#111">0.2</text>
<line x1="266.59999999999997" y1="754.8" x2="271.2" y2="754.8" stroke="#000" stroke-width="1.7"/>
<text x="265.9" y="758.6999999999999" font-size="11.1" text-anchor="end" font-weight="700" fill="#111">0.3</text>
<line x1="288.2" y1="883.9" x2="288.2" y2="890.5" stroke="#000" stroke-width="1.7"/>
<line x1="321.8" y1="883.9" x2="321.8" y2="890.5" stroke="#000" stroke-width="1.7"/>
<text x="237.3" y="908.3" font-size="14.8" text-anchor="start" fill="#111">NAM</text>
<rect x="284.7" y="901.0500000000001" width="5.2" height="1.3" fill="#111"/>
<path d="M319.8 902.3h8.4M324 898.0999999999999v8.4" stroke="#111" stroke-width="1.3" fill="none"/>
<line x1="280" y1="917.3" x2="332.3" y2="917.3" stroke="#222" stroke-width="1.1"/>
<text x="305.8" y="934.3" font-size="15" text-anchor="middle" fill="#111">GRMD</text>
<text x="224" y="819" font-size="15.4" text-anchor="middle" transform="rotate(-90 224 819)" fill="#111">PARP-1 relative</text>
<text x="242.3" y="817" font-size="15.4" text-anchor="middle" transform="rotate(-90 242.3 817)" fill="#111">expression</text>
</g>
<g id="chartC1">
<line x1="551.9" y1="810.9" x2="551.9" y2="823" stroke="#000" stroke-width="1.5"/>
<line x1="546.05" y1="810.9" x2="557.75" y2="810.9" stroke="#000" stroke-width="1.5"/>
<line x1="584.1" y1="775.1" x2="584.1" y2="806" stroke="#000" stroke-width="1.5"/>
<line x1="578.35" y1="775.1" x2="589.85" y2="775.1" stroke="#000" stroke-width="1.5"/>
<rect x="541.30" y="822.10" width="21.00" height="60.20" fill="#fd5a62" stroke="#000" stroke-width="2.2"/>
<rect x="573.30" y="804.80" width="21.50" height="77.50" fill="url(#hatchS)" stroke="#000" stroke-width="2.2"/>
<line x1="536.1" y1="755.55" x2="536.1" y2="883.25" stroke="#000" stroke-width="1.9"/>
<line x1="535.15" y1="882.3" x2="600.2" y2="882.3" stroke="#000" stroke-width="1.9"/>
<line x1="531.5" y1="882.3" x2="536.1" y2="882.3" stroke="#000" stroke-width="1.7"/>
<text x="530.8000000000001" y="886.1999999999999" font-size="11.1" text-anchor="end" font-weight="700" fill="#111">0.0</text>
<line x1="531.5" y1="840.3666666666667" x2="536.1" y2="840.3666666666667" stroke="#000" stroke-width="1.7"/>
<text x="530.8000000000001" y="844.2666666666667" font-size="11.1" text-anchor="end" font-weight="700" fill="#111">0.1</text>
<line x1="531.5" y1="798.4333333333333" x2="536.1" y2="798.4333333333333" stroke="#000" stroke-width="1.7"/>
<text x="530.8000000000001" y="802.3333333333333" font-size="11.1" text-anchor="end" font-weight="700" fill="#111">0.2</text>
<line x1="531.5" y1="756.5" x2="536.1" y2="756.5" stroke="#000" stroke-width="1.7"/>
<text x="530.8000000000001" y="760.4" font-size="11.1" text-anchor="end" font-weight="700" fill="#111">0.3</text>
<line x1="551.9" y1="882.3" x2="551.9" y2="888.3" stroke="#000" stroke-width="1.7"/>
<line x1="584.1" y1="882.3" x2="584.1" y2="888.3" stroke="#000" stroke-width="1.7"/>
<text x="495.7" y="907.7" font-size="14.8" text-anchor="start" fill="#111">NAM</text>
<rect x="547.4" y="896.0500000000001" width="5.2" height="1.3" fill="#111"/>
<path d="M580.0999999999999 897.3h8.4M584.3 893.0999999999999v8.4" stroke="#111" stroke-width="1.3" fill="none"/>
<line x1="542.7" y1="911.7" x2="592.7" y2="911.7" stroke="#222" stroke-width="1.1"/>
<text x="570.3" y="931.7" font-size="15" text-anchor="middle" fill="#111">GRMD</text>
<text x="490" y="819.5" font-size="15.4" text-anchor="middle" transform="rotate(-90 490 819.5)" fill="#111">Nampt relative</text>
<text x="508.3" y="817.5" font-size="15.4" text-anchor="middle" transform="rotate(-90 508.3 817.5)" fill="#111">expression</text>
</g>
<g id="chartC2">
<line x1="699.4" y1="780.2" x2="699.4" y2="802" stroke="#000" stroke-width="1.5"/>
<line x1="693.0" y1="780.2" x2="705.8" y2="780.2" stroke="#000" stroke-width="1.5"/>
<line x1="734.5" y1="785" x2="734.5" y2="799" stroke="#000" stroke-width="1.5"/>
<line x1="728.1" y1="785" x2="740.9" y2="785" stroke="#000" stroke-width="1.5"/>
<rect x="687.80" y="801.30" width="23.10" height="82.90" fill="#fd5a62" stroke="#000" stroke-width="2.2"/>
<rect x="723.00" y="797.60" width="23.10" height="86.60" fill="url(#hatchS)" stroke="#000" stroke-width="2.2"/>
<line x1="681.9" y1="749.75" x2="681.9" y2="885.1500000000001" stroke="#000" stroke-width="1.9"/>
<line x1="680.9499999999999" y1="884.2" x2="751.8" y2="884.2" stroke="#000" stroke-width="1.9"/>
<line x1="677.3" y1="884.2" x2="681.9" y2="884.2" stroke="#000" stroke-width="1.7"/>
<text x="676.6" y="888.1" font-size="11.1" text-anchor="end" font-weight="700" fill="#111">0.00</text>
<line x1="677.3" y1="850.825" x2="681.9" y2="850.825" stroke="#000" stroke-width="1.7"/>
<text x="676.6" y="854.725" font-size="11.1" text-anchor="end" font-weight="700" fill="#111">0.05</text>
<line x1="677.3" y1="817.45" x2="681.9" y2="817.45" stroke="#000" stroke-width="1.7"/>
<text x="676.6" y="821.35" font-size="11.1" text-anchor="end" font-weight="700" fill="#111">0.10</text>
<line x1="677.3" y1="784.075" x2="681.9" y2="784.075" stroke="#000" stroke-width="1.7"/>
<text x="676.6" y="787.975" font-size="11.1" text-anchor="end" font-weight="700" fill="#111">0.15</text>
<line x1="677.3" y1="750.7" x2="681.9" y2="750.7" stroke="#000" stroke-width="1.7"/>
<text x="676.6" y="754.6" font-size="11.1" text-anchor="end" font-weight="700" fill="#111">0.20</text>
<line x1="699.4" y1="884.2" x2="699.4" y2="891" stroke="#000" stroke-width="1.7"/>
<line x1="734.5" y1="884.2" x2="734.5" y2="891" stroke="#000" stroke-width="1.7"/>
<text x="645.7" y="908.3" font-size="14.8" text-anchor="start" fill="#111">NAM</text>
<rect x="696.4" y="901.0500000000001" width="5.2" height="1.3" fill="#111"/>
<path d="M731.0999999999999 901.7h8.4M735.3 897.5v8.4" stroke="#111" stroke-width="1.3" fill="none"/>
<line x1="691.3" y1="915" x2="743.7" y2="915" stroke="#222" stroke-width="1.1"/>
<text x="719.5" y="933.3" font-size="15" text-anchor="middle" fill="#111">GRMD</text>
<text x="628.3" y="818.3" font-size="15.4" text-anchor="middle" transform="rotate(-90 628.3 818.3)" fill="#111">NRK2 relative</text>
<text x="647.3" y="817" font-size="15.4" text-anchor="middle" transform="rotate(-90 647.3 817)" fill="#111">expression</text>
</g>
</svg>
</body></html>
